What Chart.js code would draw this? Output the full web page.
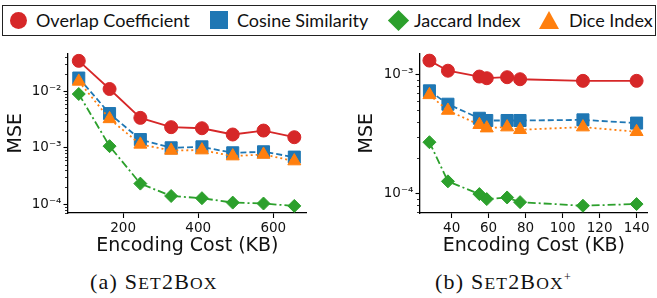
<!DOCTYPE html>
<html>
<head>
<meta charset="utf-8">
<script src="https://cdn.jsdelivr.net/npm/chart.js@4.4.1/dist/chart.umd.min.js"></script>
<style>
  body { margin: 0; background: #fff; }
  #page { position: relative; width: 657px; height: 298px; overflow: hidden; }
  #page canvas { position: absolute; top: 40px; }
  .box { position: absolute; left: 2px; top: 4.5px; width: 654px; height: 31px; border: 1.5px solid #222; box-sizing: border-box; }
  .mk { position: absolute; }
  .lt { position: absolute; top: 5px; line-height: 30px; font-family: Lato, sans-serif; font-size: 18px; color: #111; white-space: nowrap; }
  .cap { position: absolute; top: 270px; height: 24px; line-height: 24px; font-family: "Liberation Serif", serif; font-size: 22px; letter-spacing: 1.2px; color: #111; white-space: nowrap; }
  .sm { font-size: 17.5px; }
  .plus { position: relative; top: -8px; font-size: 12px; }
</style>
</head>
<body>
<div id="page">
  <!-- shared legend -->
  <div class="box"></div>
  <div class="mk" style="left:10px;top:11.5px;width:17px;height:17px;border-radius:50%;background:#d62728"></div>
  <div class="lt" style="left:36px">Overlap Coefficient</div>
  <div class="mk" style="left:209.5px;top:11px;width:18px;height:18px;background:#1f77b4"></div>
  <div class="lt" style="left:237px">Cosine Similarity</div>
  <div class="mk" style="left:391px;top:12.5px;width:15px;height:15px;background:#2ca02c;transform:rotate(45deg)"></div>
  <div class="lt" style="left:414px">Jaccard Index</div>
  <div class="mk" style="left:538.5px;top:11px;width:0;height:0;border-left:10.5px solid transparent;border-right:10.5px solid transparent;border-bottom:18px solid #ff7f0e"></div>
  <div class="lt" style="left:569px">Dice Index</div>

  <canvas id="chartA" width="330" height="220" style="left:0"></canvas>
  <canvas id="chartB" width="327" height="220" style="left:330px"></canvas>

  <div class="cap" style="left:90px">(a) S<span class="sm">ET</span>2B<span class="sm">OX</span></div>
  <div class="cap" style="left:435px">(b) S<span class="sm">ET</span>2B<span class="sm">OX</span><span class="plus">+</span></div>
</div>

<script>
// (a) Set2Box
const costA = [82, 164, 246, 328, 410, 492, 574, 656];
const overlapA = [0.0347, 0.011, 0.00339, 0.00232, 0.00222, 0.00172, 0.00202, 0.00154];
const cosineA = [0.0172, 0.00404, 0.0014, 0.001, 0.00104, 0.000816, 0.00085, 0.000684];
const jaccardA = [0.00897, 0.00107, 0.000232, 0.00014, 0.000128, 0.000107, 0.000103, 0.0000934];
const diceA = [0.015, 0.00325, 0.00115, 0.000897, 0.00091, 0.000713, 0.000762, 0.000582];

// (b) Set2Box+
const costB = [28, 38, 55, 59, 70, 77, 111, 140];
const overlapB = [0.0013, 0.00107, 0.000956, 0.000926, 0.000944, 0.000908, 0.00088, 0.00088];
const cosineB = [0.000726, 0.000561, 0.000428, 0.00041, 0.00041, 0.00041, 0.000415, 0.00039];
const jaccardB = [0.00027, 0.000127, 0.0000994, 0.0000902, 0.0000931, 0.0000851, 0.0000794, 0.000082];
const diceB = [0.000672, 0.000497, 0.000378, 0.000354, 0.000361, 0.000343, 0.000361, 0.00033];

// tick labels
const xTicksA = [200, 400, 600];
const yTicksA = [1e-4, 1e-3, 1e-2];
const xTicksB = [40, 60, 80, 100, 120, 140];
const yTicksB = [1e-4, 1e-3];

const seriesNames = ["Overlap Coefficient", "Cosine Similarity", "Jaccard Index", "Dice Index"];

const styles = [
  { color: "#d62728", point: "circle", radius: 6.5, dash: [], order: 3 },
  { color: "#1f77b4", point: "rect", radius: 8.5, dash: [6, 3], order: 2 },
  { color: "#2ca02c", point: "rectRot", radius: 6.5, dash: [8, 3, 2, 3], order: 1 },
  { color: "#ff7f0e", point: "triangle", radius: 7.5, dash: [2, 3], order: 0 }
];

const FONT = "DejaVu Sans";

function supLabel(v) {
  const sup = { "-": "\u207B", "0": "\u2070", "1": "\u00B9", "2": "\u00B2", "3": "\u00B3", "4": "\u2074", "5": "\u2075", "6": "\u2076", "7": "\u2077", "8": "\u2078", "9": "\u2079" };
  const e = String(Math.round(Math.log10(v)));
  return "10" + e.split("").map(c => sup[c]).join("");
}

// short minor ticks on the log axis
const minorTicks = {
  id: "minorTicks",
  afterDraw(chart) {
    const y = chart.scales.y;
    const ctx = chart.ctx;
    const lo = Math.floor(Math.log10(y.min));
    const hi = Math.ceil(Math.log10(y.max));
    ctx.save();
    ctx.strokeStyle = "#000";
    ctx.lineWidth = 0.8;
    for (let e = lo; e < hi; e++) {
      for (let k = 2; k < 10; k++) {
        const v = k * Math.pow(10, e);
        if (v < y.min || v > y.max) continue;
        const py = Math.round(y.getPixelForValue(v)) + 0.5;
        ctx.beginPath();
        ctx.moveTo(y.right - 3, py);
        ctx.lineTo(y.right, py);
        ctx.stroke();
      }
    }
    ctx.restore();
  }
};

function makeChart(id, xs, lists, xMin, xMax, xTicks, yMin, yMax, yTicks, yWidth, yTitlePad, padRight) {
  const datasets = lists.map((vals, i) => ({
    label: seriesNames[i],
    data: xs.map((x, j) => ({ x: x, y: vals[j] })),
    borderColor: styles[i].color,
    backgroundColor: styles[i].color,
    borderWidth: 1.8,
    borderDash: styles[i].dash,
    pointStyle: styles[i].point,
    pointRadius: styles[i].radius,
    pointBorderWidth: 1,
    pointBackgroundColor: styles[i].color,
    pointBorderColor: styles[i].color,
    tension: 0,
    order: styles[i].order
  }));

  return new Chart(document.getElementById(id), {
    type: "line",
    data: { datasets: datasets },
    plugins: [minorTicks],
    options: {
      responsive: false,
      animation: false,
      layout: { padding: { top: 13.3, right: padRight, left: 0, bottom: 0 } },
      plugins: { legend: { display: false }, tooltip: { enabled: false } },
      scales: {
        x: {
          type: "linear",
          min: xMin,
          max: xMax,
          afterBuildTicks: s => { s.ticks = xTicks.map(v => ({ value: v })); },
          afterFit: s => { s.height = 47; },
          grid: { drawOnChartArea: false, tickLength: 5, tickColor: "#000", tickWidth: 1.1 },
          border: { color: "#000", width: 1.3 },
          ticks: { color: "#111", font: { family: FONT, size: 13.5 }, padding: 2, maxRotation: 0, autoSkip: false },
          title: { display: true, text: "Encoding Cost (KB)", color: "#111", font: { family: FONT, size: 19 }, padding: { top: 0, bottom: 2.5 } }
        },
        y: {
          type: "logarithmic",
          min: yMin,
          max: yMax,
          afterBuildTicks: s => { s.ticks = yTicks.map(v => ({ value: v, major: true })); },
          afterFit: s => { s.width = yWidth; },
          grid: { drawOnChartArea: false, tickLength: 4.5, tickColor: "#000", tickWidth: 1.1 },
          border: { color: "#000", width: 1.3 },
          ticks: { color: "#111", font: { family: FONT, size: 13.5 }, padding: 2, autoSkip: false, callback: v => supLabel(v) },
          title: { display: true, text: "MSE", color: "#111", font: { family: FONT, size: 19 }, padding: { top: yTitlePad, bottom: 0 } }
        }
      }
    }
  });
}

makeChart("chartA", costA, [overlapA, cosineA, jaccardA, diceA],
  53.3, 689, xTicksA, Math.pow(10, -4.133), Math.pow(10, -1.326), yTicksA, 68, 4.2, 23.3);

makeChart("chartB", costB, [overlapB, cosineB, jaccardB, diceB],
  22.9, 145.9, xTicksB, Math.pow(10, -4.161), Math.pow(10, -2.825), yTicksB, 90, 25.5, 8.7);
</script>
</body>
</html>
